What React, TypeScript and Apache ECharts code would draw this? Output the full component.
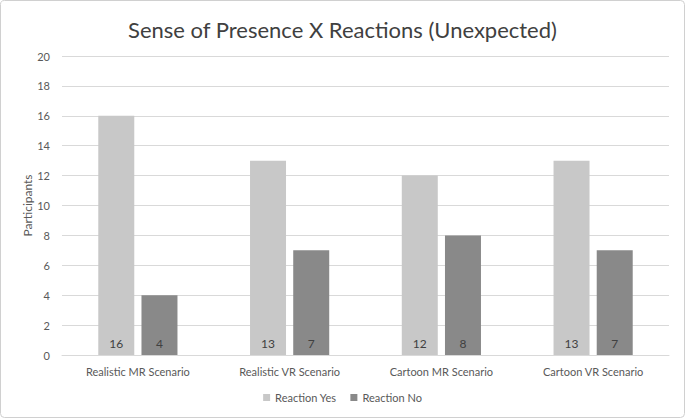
import React, { useEffect, useRef } from "react";
import * as echarts from "echarts";

const categories = ["Realistic MR Scenario", "Realistic VR Scenario", "Cartoon MR Scenario", "Cartoon VR Scenario"];
const reactionYes = [16, 13, 12, 13];
const reactionNo = [4, 7, 8, 7];
const seriesNames = ["Reaction Yes", "Reaction No"];
const titleText = "Sense of Presence X Reactions (Unexpected)";
const yAxisName = "Participants";

const FONT = "Lato, 'Open Sans', sans-serif";

export default function App() {
  const ref = useRef<HTMLDivElement>(null);
  useEffect(() => {
    document.body.style.margin = "0";
    const chart = echarts.init(ref.current!, null, { renderer: "svg" });
    const label = {
      show: true,
      position: "insideBottom",
      distance: 6,
      color: "#404040",
      fontSize: 12,
      fontFamily: FONT,
    };
    chart.setOption({
      animation: false,
      backgroundColor: "#ffffff",
      title: {
        text: titleText,
        left: "center",
        top: 13,
        textStyle: { fontFamily: FONT, fontSize: 22, fontWeight: "normal", color: "#404040" },
      },
      graphic: [
        {
          type: "rect",
          shape: { x: 0.5, y: 0.5, width: 684, height: 417, r: 4 },
          style: { fill: "none", stroke: "#d0d0d0", lineWidth: 1 },
          silent: true,
          z: 100,
        },
      ],
      legend: {
        data: seriesNames,
        bottom: 10,
        left: "center",
        icon: "rect",
        itemWidth: 7,
        itemHeight: 7,
        itemGap: 14,
        textStyle: { fontFamily: FONT, fontSize: 11, color: "#595959" },
      },
      grid: { left: 62, right: 16, top: 56, bottom: 63, containLabel: false },
      xAxis: {
        type: "category",
        data: categories,
        axisLine: { lineStyle: { color: "#d9d9d9" } },
        axisTick: { show: false },
        axisLabel: { fontFamily: FONT, fontSize: 11, color: "#595959", margin: 11 },
      },
      yAxis: {
        type: "value",
        min: 0,
        max: 20,
        interval: 2,
        name: yAxisName,
        nameLocation: "middle",
        nameGap: 29,
        nameRotate: 90,
        nameMoveOverlap: false,
        nameTextStyle: { fontFamily: FONT, fontSize: 12, color: "#595959" },
        axisLine: { show: false },
        axisTick: { show: false },
        axisLabel: { fontFamily: FONT, fontSize: 11, color: "#595959", margin: 12 },
        splitLine: { lineStyle: { color: "#d9d9d9" } },
      },
      series: [
        {
          name: seriesNames[0],
          type: "bar",
          data: reactionYes,
          itemStyle: { color: "#c8c8c8" },
          barWidth: 36,
          barGap: "20%",
          label,
        },
        {
          name: seriesNames[1],
          type: "bar",
          data: reactionNo,
          itemStyle: { color: "#898989" },
          barWidth: 36,
          label,
        },
      ],
    });
    return () => chart.dispose();
  }, []);
  return <div ref={ref} style={{ position: "fixed", left: 0, top: 0, width: 685, height: 418 }} />;
}
